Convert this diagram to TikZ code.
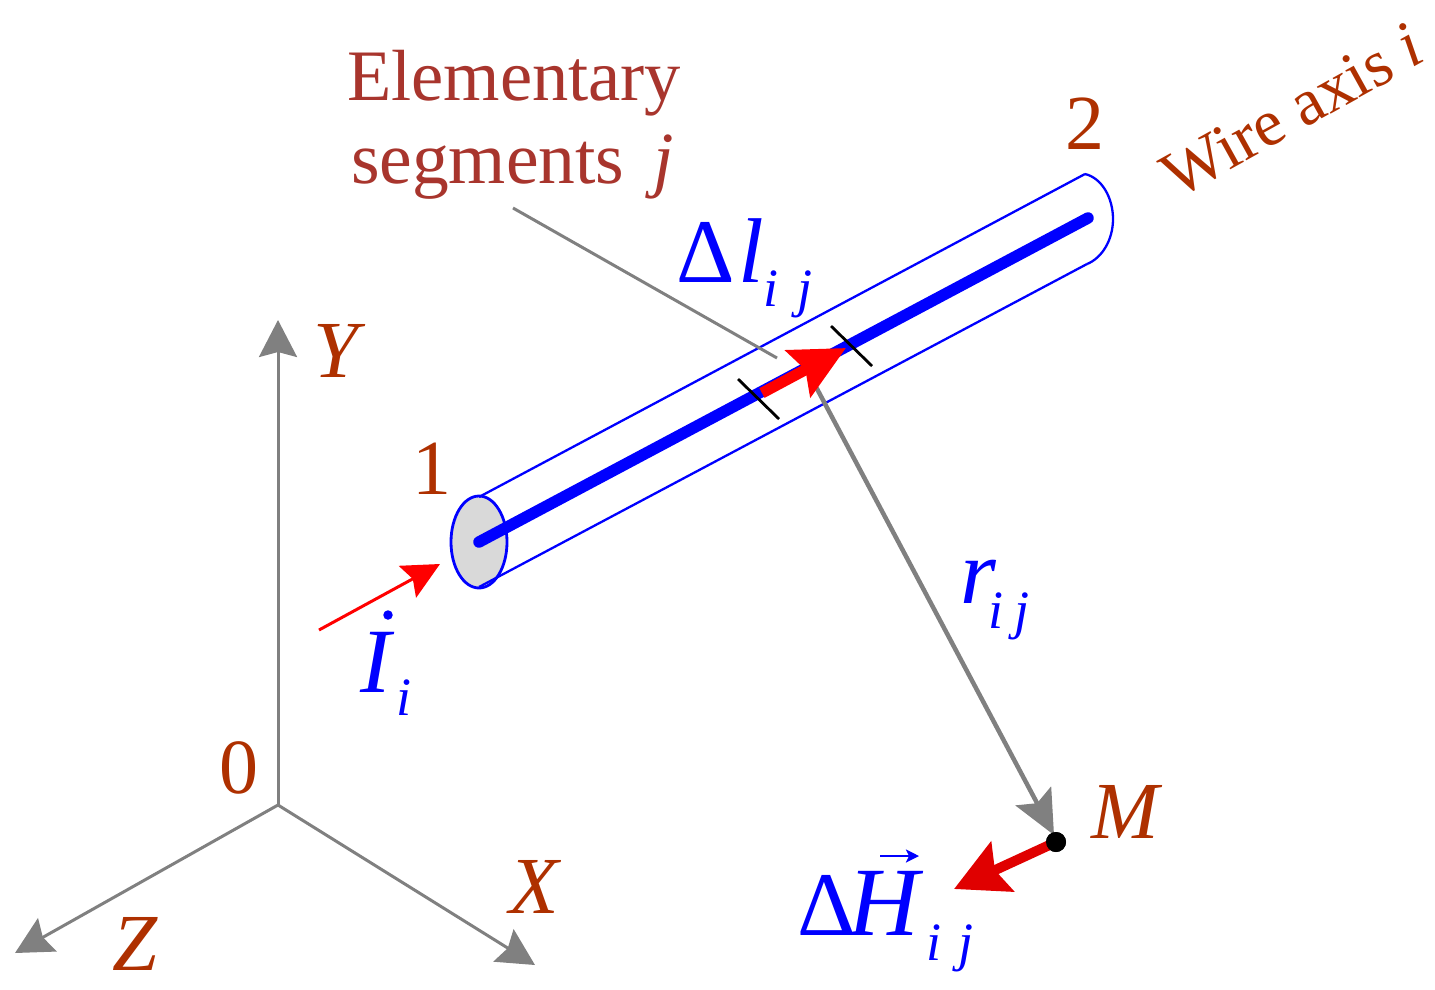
\documentclass[tikz,border=0pt]{standalone}
\usepackage{fontspec}
\setmainfont{Liberation Serif}
\usetikzlibrary{arrows.meta}
\definecolor{labelred}{HTML}{AE3000}
\definecolor{notered}{HTML}{A8352D}
\definecolor{axisgray}{HTML}{808080}
\definecolor{darkarrow}{HTML}{E00000}
\definecolor{capgray}{HTML}{D9D9D9}
\newcommand{\fsz}[1]{\fontsize{#1}{#1}\selectfont}
\tikzset{
  txt/.style={inner sep=0pt,outer sep=0pt,anchor=base west},
  lab/.style={txt,text=labelred,font=\fsz{78}},
  labit/.style={txt,text=labelred,font=\fsz{81}\itshape},
  note/.style={txt,text=notered,font=\fsz{72.5}},
  big/.style={txt,text=blue,font=\fsz{91}},
  bigit/.style={txt,text=blue,font=\fsz{92}\itshape},
  subs/.style={txt,text=blue,font=\fsz{54}\itshape},
  axisline/.style={draw=axisgray,line width=3pt,-{Stealth[length=37pt,width=38pt,inset=5pt]}},
  leader/.style={draw=axisgray,line width=3pt},
  wire/.style={draw=blue,line width=2.3pt},
  tick/.style={draw=black,line width=2.8pt}
}
\begin{document}
\begin{tikzpicture}[x=1pt,y=-1pt]
\useasboundingbox (0,0) rectangle (1435,989);
% coordinates
\coordinate (O) at (278,805);
\coordinate (Yt) at (278,320);
\coordinate (Zt) at (15,953);
\coordinate (Xt) at (535,965);
\coordinate (A) at (479,542);
\coordinate (B) at (1088,218);
\coordinate (At) at (479,497);
\coordinate (Ab) at (479,587);
\coordinate (Bt) at (1085,174);
\coordinate (Bb) at (1087,264);
\coordinate (Ls) at (513,208);
\coordinate (Le) at (777,358);
\coordinate (T1a) at (738,379);
\coordinate (T1b) at (779,419);
\coordinate (T2a) at (831,326);
\coordinate (T2b) at (872,366);
\coordinate (Rs) at (815,385);
\coordinate (Re) at (1054,835);
\coordinate (Ds) at (762,393);
\coordinate (De) at (846,348);
\coordinate (Is) at (319,630);
\coordinate (Ie) at (440,564);
\coordinate (He) at (954,889);
\coordinate (Vs) at (880,856);
\coordinate (Ve) at (919,856);
% axes
\draw[axisline] (O) -- (Yt);
\draw[axisline] (O) -- (Zt);
\draw[axisline] (O) -- (Xt);
% wire
\draw[wire,fill=capgray,line width=2.8pt] (A) ellipse [x radius=28,y radius=46];
\draw[wire] (At) -- (Bt);
\draw[wire] (Ab) -- (Bb);
\draw[wire] (Bt) .. controls (1102,178) and (1113,198) .. (1113,219) .. controls (1113,240) and (1102,258) .. (Bb);
\draw[draw=blue,line width=11.5pt,line cap=round] (A) -- (B);
% leaders
\draw[leader] (Ls) -- (Le);
\draw[axisgray,line width=4.5pt,-{Stealth[length=44pt,width=40pt,inset=8pt]}] (Rs) -- (Re);
% ticks
\draw[tick] (T1a) -- (T1b);
\draw[tick] (T2a) -- (T2b);
% red arrows
\draw[red,line width=11pt,-{Stealth[length=54pt,width=52pt,inset=8pt]}] (Ds) -- (De);
\draw[red,line width=3pt,-{Stealth[length=37pt,width=36pt,inset=6pt]}] (Is) -- (Ie);
\node[circle,fill=black,inner sep=0pt,minimum size=20pt] (Mdot) at (1056,842) {};
\draw[darkarrow,line width=10pt,-{Stealth[length=53pt,width=54pt,inset=8pt]}] (Mdot.center) -- (He);
\node[circle,fill=black,inner sep=0pt,minimum size=20pt] (MdotTop) at (1056,842) {};
% vector arrow
\draw[blue,line width=2.5pt,-{Stealth[length=13pt,width=13pt,inset=3pt]}] (Vs) -- (Ve);
% labels
\node[note] (e1) at (347,100) {Elementary};
\node[note,font=\fsz{73.5}] (e2) at (351,183) {segments \hspace{-8pt}\ \textit{j}};
\node[lab] (n2) at (1065,149) {2};
\node[lab] (n1) at (412,494) {1};
\node[lab] (n0) at (219,793) {0};
\node[labit] (lY) at (313,377) {Y};
\node[labit] (lX) at (509,913) {X};
\node[labit] (lZ) at (112,970) {Z};
\node[labit] (lM) at (1091,838) {M};
\node[txt,text=labelred,font=\fsz{66},rotate=29] (wa) at (1177,199) {Wire axis \textit{i}};
\node[big] (d1) at (676,282) {Δ};
\node[bigit] (l1) at (738,282) {l};
\node[subs] (s1) at (763,306) {i};
\node[subs] (s2) at (797,306) {j};
\node[bigit] (r1) at (960,603) {r};
\node[subs] (s3) at (988,628) {i};
\node[subs] (s4) at (1014,628) {j};
\node[bigit] (I1) at (360,692) {I};
\node[circle,fill=blue,inner sep=0pt,minimum size=9.5pt] (Idot) at (388,615) {};
\node[subs] (s5) at (396,715) {i};
\node[big] (d2) at (797,935) {Δ};
\node[bigit,font=\fsz{98}\itshape] (H1) at (848,935) {H};
\node[subs] (s6) at (926,960) {i};
\node[subs] (s7) at (958,960) {j};
\end{tikzpicture}
\end{document}
